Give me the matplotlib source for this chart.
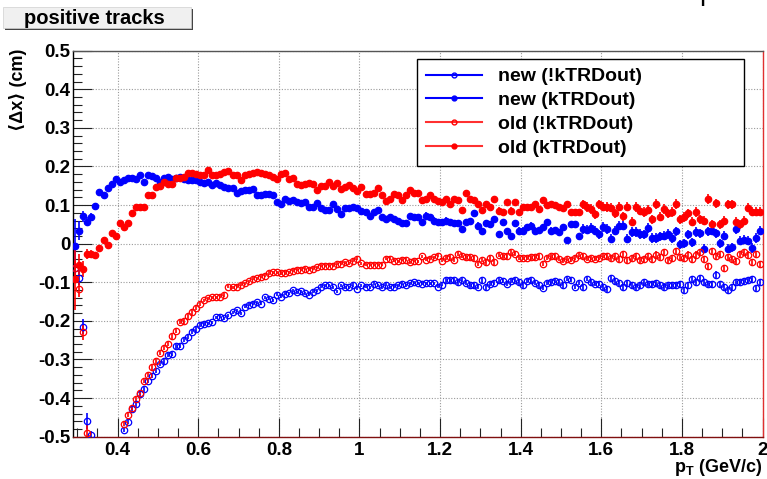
import numpy as np
import matplotlib
matplotlib.use('Agg')
from matplotlib import pyplot as plt
from matplotlib.lines import Line2D
from matplotlib.patches import Rectangle
from matplotlib.ticker import MultipleLocator, FuncFormatter

nan = np.nan

# pT bin centres (0.01 GeV/c bins)
pt = np.round(np.arange(0.295, 2.0, 0.01), 3)

# new, !kTRDout (open blue)
new_in = [-0.064, -0.088, -0.215, -0.459, -0.496, nan, nan, nan, nan, nan, nan, nan,
          -0.483, -0.461, -0.428, -0.416, -0.390, -0.377, -0.356, -0.342, -0.330, -0.312,
          -0.305, -0.288, -0.286, -0.266, -0.265, -0.249, -0.242, -0.228, -0.222, -0.211,
          -0.208, -0.206, -0.203, -0.191, -0.189, -0.193, -0.186, -0.178, -0.172, -0.180,
          -0.163, -0.158, -0.156, -0.152, -0.156, -0.139, -0.143, -0.147, -0.132, -0.137,
          -0.130, -0.128, -0.121, -0.126, -0.123, -0.128, -0.132, -0.124, -0.121,
          -0.111, -0.108, -0.108, -0.113, -0.123, -0.108, -0.113, -0.113, -0.107, -0.117,
          -0.108, -0.111, -0.113, -0.104, -0.108, -0.113, -0.106, -0.113, -0.111, -0.108,
          -0.104, -0.108, -0.102, -0.100, -0.102, -0.104, -0.102, -0.102, -0.102, -0.111,
          -0.106, -0.095, -0.095, -0.095, -0.100, -0.094, -0.102, -0.108, -0.108, -0.111,
          -0.095, -0.113, -0.104, -0.102, -0.095, -0.097, -0.104, -0.097, -0.094, -0.100,
          -0.108, -0.097,
          -0.095, -0.102, -0.108, -0.114, -0.102, -0.100, -0.097, -0.100, -0.108, -0.091,
          -0.094, -0.111, -0.102, -0.113, -0.091, -0.100, -0.104, -0.104, -0.113, -0.117,
          -0.089, -0.097, -0.102, -0.113, -0.102, -0.106, -0.113, -0.108, -0.100, -0.104,
          -0.104, -0.102, -0.106, -0.111, -0.108, -0.108, -0.108, -0.104, -0.120, -0.108,
          -0.091, -0.100, -0.089, -0.100, -0.104, -0.104, -0.080, -0.104, -0.113, -0.120,
          -0.113, -0.100, -0.100, -0.097, -0.094, -0.091, -0.114, -0.100]

# new, kTRDout (filled blue)
new_out = [-0.005, 0.034, 0.071, 0.057, 0.069, 0.097, 0.135, 0.127, 0.144, 0.155,
           0.168, 0.159, 0.165, 0.170, 0.170, 0.167, 0.177, 0.159, 0.178, 0.175,
           0.169, 0.161, 0.170, 0.172, 0.167, 0.171, 0.172, 0.167, 0.164, 0.164,
           0.166, 0.161, 0.156, 0.159, 0.153, 0.158, 0.152, 0.148, 0.144, 0.144,
           0.132, 0.136, 0.139, 0.140, 0.141, 0.127, 0.125, 0.130, 0.130, 0.125,
           0.108, 0.103, 0.116, 0.110, 0.112, 0.108, 0.106, 0.108, 0.095, 0.095,
           0.105,
           0.093, 0.088, 0.088, 0.103, 0.090, 0.077, 0.093, 0.093, 0.096, 0.093,
           0.084, 0.082, 0.073, 0.082, 0.088, 0.070, 0.064, 0.069, 0.064, 0.058,
           0.053, 0.053, 0.073, 0.069, 0.069, 0.057, 0.073, 0.069, 0.060, 0.056,
           0.056, 0.060, 0.056, 0.053, 0.053, 0.038, 0.056, 0.058, 0.079, 0.047,
           0.032, 0.053, 0.051, 0.064, 0.025, 0.057, 0.032, 0.020, 0.053, 0.034,
           0.034, 0.044,
           0.047, 0.034, 0.036, 0.044, 0.056, 0.034, 0.036, 0.030, 0.044, 0.010,
           0.050, 0.050, 0.021, 0.038, 0.036, 0.041, 0.034, 0.024, 0.043, 0.038,
           0.013, 0.034, 0.047, 0.047, 0.013, 0.030, 0.030, 0.025, 0.024, 0.041,
           0.015, 0.015, 0.019, 0.021, 0.025, 0.015, 0.032, -0.002, 0.001, 0.024,
           0.004, 0.030, 0.027, -0.013, 0.032, 0.034, 0.027, 0.001, 0.021, -0.013,
           -0.009, 0.038, 0.008, 0.010, 0.008, -0.011, 0.015, 0.034]

# old, !kTRDout (open red)
old_in = [-0.064, -0.118, -0.230, -0.490, nan, nan, nan, nan, nan, nan, nan, nan,
          -0.466, -0.443, -0.426, -0.402, -0.387, -0.356, -0.339, -0.320, -0.305, -0.283,
          -0.270, -0.259, -0.240,
          -0.225, -0.203, -0.201, -0.188, -0.178, -0.166, -0.156, -0.147, -0.141, -0.139,
          -0.139, -0.137, -0.133, -0.111, -0.113, -0.111, -0.106, -0.102, -0.097, -0.091,
          -0.089, -0.085, -0.083, -0.076, -0.074, -0.074, -0.076, -0.076, -0.074, -0.070,
          -0.067, -0.067, -0.065, -0.068, -0.065,
          -0.061, -0.057, -0.057, -0.057, -0.057, -0.052, -0.052, -0.048, -0.051, -0.044,
          -0.039, -0.051, -0.055, -0.055, -0.055, -0.055, -0.055, -0.039, -0.039, -0.044,
          -0.046, -0.042, -0.042, -0.048, -0.044, -0.046, -0.033, -0.042, -0.039, -0.035,
          -0.031, -0.044, -0.037, -0.035, -0.042, -0.026, -0.031, -0.035, -0.035, -0.038,
          -0.052, -0.042, -0.048, -0.038, -0.048, -0.028, -0.033, -0.033, -0.022, -0.026,
          -0.037, -0.037, -0.037,
          -0.035, -0.035, -0.033, -0.052, -0.037, -0.033, -0.033, -0.039, -0.044, -0.039,
          -0.041, -0.037, -0.028, -0.033, -0.039, -0.037, -0.039, -0.037, -0.031, -0.033,
          -0.037, -0.031, -0.039, -0.026, -0.042, -0.037, -0.031, -0.042, -0.039, -0.033,
          -0.039, -0.028, -0.035, -0.022, -0.042, -0.037, -0.018, -0.035, -0.037, -0.028,
          -0.039, -0.028, -0.022, -0.039, -0.058, -0.018, -0.033, -0.026, -0.063, -0.035,
          -0.039, -0.044, -0.026, -0.022, -0.028, -0.048, -0.026, -0.052]

# old, kTRDout (filled red)
old_out = [-0.091, -0.056, -0.066, -0.027, -0.027, -0.029, -0.010, 0.010, -0.003, 0.029,
           0.020, 0.053, 0.043, 0.053, 0.080, 0.096, 0.096, 0.096, 0.125, 0.125,
           0.147, 0.150,
           0.159, 0.155, 0.155, 0.171, 0.171, 0.172, 0.183, 0.183, 0.181, 0.177,
           0.177, 0.191, 0.177, 0.177, 0.181, 0.185, 0.188, 0.179, 0.177, 0.164,
           0.177, 0.181, 0.183, 0.185, 0.183, 0.181, 0.179, 0.172, 0.168, 0.181,
           0.183, 0.168, 0.170, 0.155,
           0.152, 0.155, 0.157, 0.155, 0.138, 0.150, 0.150, 0.159, 0.150, 0.158,
           0.142, 0.146, 0.151, 0.144, 0.136, 0.148, 0.129, 0.129, 0.131, 0.145,
           0.127, 0.110, 0.116, 0.129, 0.127, 0.114, 0.127, 0.138, 0.132, 0.132,
           0.112, 0.116, 0.127, 0.116, 0.110, 0.108, 0.116, 0.103, 0.116, 0.114,
           0.088, 0.132, 0.116, 0.112, 0.102, 0.088, 0.103, 0.095, 0.116, 0.086,
           0.083, 0.109, 0.086, 0.109, 0.083, 0.096, 0.095,
           0.095, 0.103, 0.090, 0.114, 0.099, 0.102, 0.099, 0.095, 0.093, 0.102,
           0.082, 0.082, 0.082, 0.102, 0.095, 0.090, 0.076, 0.102, 0.096, 0.095,
           0.093, 0.079, 0.096, 0.071, 0.096, 0.057, 0.095, 0.086, 0.082, 0.088,
           0.063, 0.103, 0.070, 0.090, 0.079, 0.082, 0.103, 0.063, 0.069, 0.079,
           0.057, 0.082, 0.063, 0.060, 0.116, 0.050, 0.105, 0.050, 0.060, 0.102,
           0.102, 0.057, 0.050, 0.060, 0.093, 0.083, 0.083, 0.083]

# rough error bars
err_new_in = [0.02, 0.02, 0.02, 0.02, 0.01] + [nan] * 7 + [0.006] * 20 + [0.004] * 60 + [0.006] * 40 + [0.008] * 39
err_old_in = [0.02, 0.02, 0.02, 0.02] + [nan] * 8 + [0.006] * 20 + [0.004] * 60 + [0.006] * 40 + [0.008] * 39
err_new_out = [0.07, 0.025, 0.015, 0.012, 0.010, 0.008] + [0.005] * 30 + [0.004] * 50 + [0.008] * 40 + [0.012] * 45
err_old_out = [0.08, 0.03, 0.02, 0.012, 0.010, 0.008] + [0.005] * 30 + [0.004] * 50 + [0.008] * 40 + [0.012] * 45

labels = ['new (!kTRDout)', 'new (kTRDout)', 'old (!kTRDout)', 'old (kTRDout)']

plt.rcParams['font.family'] = ['Liberation Sans', 'DejaVu Sans']
plt.rcParams['font.weight'] = 'bold'
plt.rcParams['axes.unicode_minus'] = False
plt.rcParams['mathtext.fontset'] = 'custom'
plt.rcParams['mathtext.rm'] = 'Liberation Sans:bold'
plt.rcParams['mathtext.bf'] = 'Liberation Sans:bold'

W, H = 767, 479
fig = plt.figure(figsize=(W / 100, H / 100), dpi=100)
ax = fig.add_axes([73.3 / W, 1 - 436.7 / H, 689.2 / W, 386.0 / H])

series = [(new_in, err_new_in, 'blue', False),
          (new_out, err_new_out, 'blue', True),
          (old_in, err_old_in, 'red', False),
          (old_out, err_old_out, 'red', True)]
for vals, errs, col, filled in series:
    ax.errorbar(pt, vals, yerr=errs, fmt='o', color=col, ecolor=col, elinewidth=1.2,
                capsize=0, ms=4.6, mew=0.9, mec=col, mfc=col if filled else 'none',
                clip_on=True, zorder=3)

ax.set_xlim(0.29, 2.0)
ax.set_ylim(-0.5, 0.5)
fmt = FuncFormatter(lambda v, p: '%g' % round(v, 6))
ax.xaxis.set_major_locator(MultipleLocator(0.2))
ax.xaxis.set_minor_locator(MultipleLocator(0.05))
ax.yaxis.set_major_locator(MultipleLocator(0.1))
ax.yaxis.set_minor_locator(MultipleLocator(0.02))
ax.xaxis.set_major_formatter(fmt)
ax.yaxis.set_major_formatter(fmt)
ax.tick_params(which='both', direction='in', top=False, right=False, width=0.8, color='#222222')
ax.tick_params(which='major', length=13.5, labelsize=13.5)
ax.tick_params(which='minor', length=6.5)
ax.tick_params(axis='y', pad=2)
ax.tick_params(axis='x', pad=3.5)
for lab in ax.get_xticklabels() + ax.get_yticklabels():
    lab.set_fontweight('bold')
ax.grid(True, which='major', color='#9a9a9a', linestyle=(0, (1, 1.5)), linewidth=0.8)
ax.set_axisbelow(True)

ax.spines['left'].set_color('black')
ax.spines['bottom'].set_color('#801010')
ax.spines['right'].set_color('#e03030')
ax.spines['top'].set_color('#555555')
for s in ax.spines.values():
    s.set_linewidth(1.0)

fig.text(18 / W, 1 - 49 / H, '\u27e8\u0394x\u27e9 (cm)', rotation=90, ha='center', va='top',
         fontsize=13, fontweight='bold')
fig.text(762 / W, 1 - 472 / H, r'$\mathbf{p_{T}}$ (GeV/c)', ha='right', va='baseline',
         fontsize=13, fontweight='bold')

# title pave
fig.patches.append(Rectangle((5 / W, 1 - 30 / H), 188 / W, 21 / H, transform=fig.transFigure,
                             facecolor='#444444', edgecolor='none', zorder=1))
fig.patches.append(Rectangle((3 / W, 1 - 28 / H), 188 / W, 21 / H, transform=fig.transFigure,
                             facecolor='#f0f0f0', edgecolor='#d0d0d0', linewidth=0.5, zorder=2))
fig.text(94 / W, 1 - 18.5 / H, 'positive tracks', ha='center', va='center',
         fontsize=14.5, fontweight='bold', zorder=3)

# cut-off glyph at the top edge
fig.text(699 / W, 1.0, 'p', ha='left', va='baseline', fontsize=20, fontweight='normal')

handles = [Line2D([], [], color='blue', marker='o', mfc='none', mec='blue', ms=3.5, lw=1.5, mew=1),
           Line2D([], [], color='blue', marker='o', mfc='blue', mec='blue', ms=3.5, lw=1.5),
           Line2D([], [], color='#ff3030', marker='o', mfc='none', mec='red', ms=3.5, lw=1.5, mew=1),
           Line2D([], [], color='#ff3030', marker='o', mfc='red', mec='red', ms=3.5, lw=1.5)]
leg = ax.legend(handles, labels, loc='upper left',
                bbox_to_anchor=(417 / W, 1 - 161 / H, 327 / W, 102 / H),
                bbox_transform=fig.transFigure, mode='expand', fancybox=False,
                framealpha=1, edgecolor='black', prop={'size': 14, 'weight': 'bold'},
                handlelength=2.9, handletextpad=0.8, labelspacing=0.32, borderpad=0.45,
                borderaxespad=0, numpoints=1)
leg.get_frame().set_linewidth(1.0)

fig.savefig('out.png', dpi=100)
